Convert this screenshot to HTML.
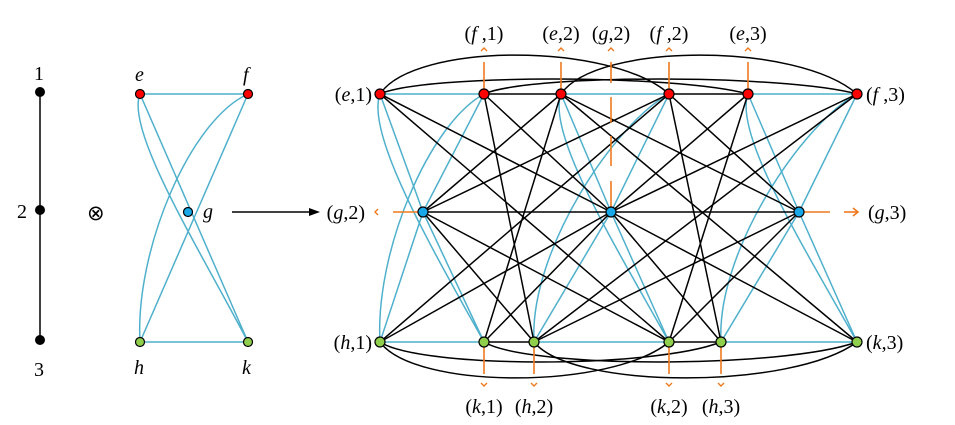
<!DOCTYPE html>
<html><head><meta charset="utf-8">
<style>
html,body{margin:0;padding:0;background:#fff;}
svg{display:block;}
text{font-family:"Liberation Serif",serif;font-size:20px;fill:#000;}
</style></head>
<body>
<svg id="s" width="955" height="425" viewBox="0 0 955 425" xmlns="http://www.w3.org/2000/svg">
<g id="blue" stroke="#4fb0cc" stroke-width="1.5" fill="none"></g>
<g id="black" stroke="#000" stroke-width="1.5" fill="none"></g>
<g id="orange" stroke="#ee7a1e" stroke-width="1.6" fill="none">
  <line x1="484" y1="94" x2="484" y2="62"/>
  <line x1="561" y1="94" x2="561" y2="62"/>
  <line x1="669" y1="94" x2="669" y2="62"/>
  <line x1="748" y1="94" x2="748" y2="62"/>
  <line x1="611" y1="62" x2="611" y2="83"/>
  <line x1="611" y1="97" x2="611" y2="123"/>
  <line x1="611" y1="136" x2="611" y2="166"/>
  <line x1="611" y1="181" x2="611" y2="212"/>
  <line x1="423" y1="212" x2="393" y2="212"/>
  <line x1="799" y1="212" x2="830" y2="212"/>
  <line x1="844" y1="212" x2="858" y2="212"/>
  <polyline points="853,208 858,212 853,216"/>
  <polyline points="378,209 375,212 378,215" stroke-width="1.4"/>
  <line x1="484" y1="342" x2="484" y2="374"/>
  <line x1="534" y1="342" x2="534" y2="374"/>
  <line x1="669" y1="342" x2="669" y2="374"/>
  <line x1="721" y1="342" x2="721" y2="374"/>
  <g stroke-width="1.4">
  <polyline points="481,51 484,48 487,51"/><polyline points="558,51 561,48 564,51"/>
  <polyline points="608,51 611,48 614,51"/><polyline points="666,51 669,48 672,51"/>
  <polyline points="745,51 748,48 751,51"/>
  <polyline points="481,383 484,386 487,383"/><polyline points="531,383 534,386 537,383"/>
  <polyline points="666,383 669,386 672,383"/><polyline points="718,383 721,386 724,383"/>
  </g>
</g>
<!-- left path graph -->
<line x1="40" y1="92" x2="40" y2="340" stroke="#000" stroke-width="1.5"/>
<circle cx="40" cy="92" r="5"/><circle cx="40" cy="210" r="5"/><circle cx="40" cy="340" r="5"/>
<text x="34" y="80">1</text><text x="17" y="218">2</text><text x="34" y="376">3</text>
<text x="87" y="220" style="font-family:'DejaVu Sans',sans-serif;font-size:21px">⊗</text>
<!-- factor H -->
<g stroke="#4fb0cc" stroke-width="1.5" fill="none">
  <line x1="140" y1="94" x2="248" y2="94"/>
  <line x1="140" y1="342" x2="248" y2="342"/>
  <line x1="140" y1="94" x2="248" y2="342"/>
  <line x1="248" y1="94" x2="140" y2="342"/>
  <path d="M140,94 C125,130 200,250 248,342"/>
  <path d="M248,94 C190,120 135,250 140,342"/>
</g>
<circle cx="140" cy="94" r="4.5" fill="#f00" stroke="#000" stroke-width="1.2"/>
<circle cx="248" cy="94" r="4.5" fill="#f00" stroke="#000" stroke-width="1.2"/>
<circle cx="188" cy="212" r="4.5" fill="#18a8e8" stroke="#000" stroke-width="1.2"/>
<circle cx="140" cy="342" r="4.5" fill="#8fcf4c" stroke="#000" stroke-width="1.2"/>
<circle cx="248" cy="342" r="4.5" fill="#8fcf4c" stroke="#000" stroke-width="1.2"/>
<text x="135" y="81" font-style="italic">e</text><text x="243" y="81" font-style="italic">f</text>
<text x="203" y="218" font-style="italic">g</text>
<text x="134" y="374" font-style="italic">h</text><text x="242" y="374" font-style="italic">k</text>
<line x1="232" y1="212" x2="312" y2="212" stroke="#000" stroke-width="1.5"/>
<polygon points="320,212 309,208 309,216" fill="#000"/>
<!-- labels -->
<text x="372" y="101" text-anchor="end">(<tspan font-style="italic">e</tspan>,1)</text>
<text x="866" y="101">(<tspan font-style="italic">f</tspan> ,3)</text>
<text x="365" y="219" text-anchor="end">(<tspan font-style="italic">g</tspan>,2)</text>
<text x="868" y="219">(<tspan font-style="italic">g</tspan>,3)</text>
<text x="372" y="349" text-anchor="end">(<tspan font-style="italic">h</tspan>,1)</text>
<text x="866" y="349">(<tspan font-style="italic">k</tspan>,3)</text>
<text x="484" y="40" text-anchor="middle">(<tspan font-style="italic">f</tspan> ,1)</text>
<text x="561" y="40" text-anchor="middle">(<tspan font-style="italic">e</tspan>,2)</text>
<text x="611" y="40" text-anchor="middle">(<tspan font-style="italic">g</tspan>,2)</text>
<text x="669" y="40" text-anchor="middle">(<tspan font-style="italic">f</tspan> ,2)</text>
<text x="748" y="40" text-anchor="middle">(<tspan font-style="italic">e</tspan>,3)</text>
<text x="484" y="413" text-anchor="middle">(<tspan font-style="italic">k</tspan>,1)</text>
<text x="534" y="413" text-anchor="middle">(<tspan font-style="italic">h</tspan>,2)</text>
<text x="669" y="413" text-anchor="middle">(<tspan font-style="italic">k</tspan>,2)</text>
<text x="721" y="413" text-anchor="middle">(<tspan font-style="italic">h</tspan>,3)</text>
<g id="nodes"></g>
</svg>
<script>
var N={e1:[380,94],f1:[484,94],e2:[561,94],f2:[669,94],e3:[748,94],f3:[857,94],
g1:[423,212],g2:[611,212],g3:[799,212],
h1:[380,342],k1:[484,342],h2:[534,342],k2:[669,342],h3:[721,342],k3:[857,342]};
var NS="http://www.w3.org/2000/svg";
function el(p,t,a){var e=document.createElementNS(NS,t);for(var k in a)e.setAttribute(k,a[k]);document.getElementById(p).appendChild(e);}
function ln(p,a,b){el(p,"line",{x1:N[a][0],y1:N[a][1],x2:N[b][0],y2:N[b][1]});}
function arc(a,b,h){var A=N[a],B=N[b];
 el("black","path",{d:"M"+A[0]+","+A[1]+" C"+(A[0]+(B[0]-A[0])*0.12)+","+(A[1]+(h-A[1])*1.33)+" "+(B[0]-(B[0]-A[0])*0.2)+","+(B[1]+(h-B[1])*1.33)+" "+B[0]+","+B[1]});}
for(var i=1;i<=3;i++){
 var e="e"+i,f="f"+i,g="g"+i,h="h"+i,k="k"+i;
 ln("blue",e,f);ln("blue",h,k);ln("blue",e,g);ln("blue",g,k);ln("blue",f,g);ln("blue",g,h);
 var E=N[e],F=N[f],H=N[h],K=N[k];
 el("blue","path",{d:"M"+E[0]+","+E[1]+" C"+(E[0]-15)+","+(E[1]+40)+" "+(K[0]-50)+","+(K[1]-90)+" "+K[0]+","+K[1]});
 el("blue","path",{d:"M"+F[0]+","+F[1]+" C"+(F[0]-55)+","+(F[1]+30)+" "+(H[0]-5)+","+(H[1]-90)+" "+H[0]+","+H[1]});
}
var HE=[["e","k"],["f","h"],["e","g"],["g","k"],["f","g"],["g","h"]];
for(var i=1;i<=2;i++){var j=i+1;
 HE.forEach(function(p){ln("black",p[0]+i,p[1]+j);ln("black",p[1]+i,p[0]+j);});
}
ln("black","f1","e2");ln("black","f2","e3");ln("black","k1","h2");ln("black","k2","h3");
ln("black","g1","g2");ln("black","g2","g3");
arc("e1","f2",55);arc("e2","f3",55);arc("e1","e3",79);arc("f1","f3",79);
arc("h1","k2",378);arc("h2","k3",378);arc("h1","h3",362);arc("k1","k3",362);
for(var n in N){var c=n[0]=="e"||n[0]=="f"?"#f00":n[0]=="g"?"#18a8e8":"#8fcf4c";
 el("nodes","circle",{cx:N[n][0],cy:N[n][1],r:5,fill:c,stroke:"#000","stroke-width":1.2});}
</script>
</body></html>
